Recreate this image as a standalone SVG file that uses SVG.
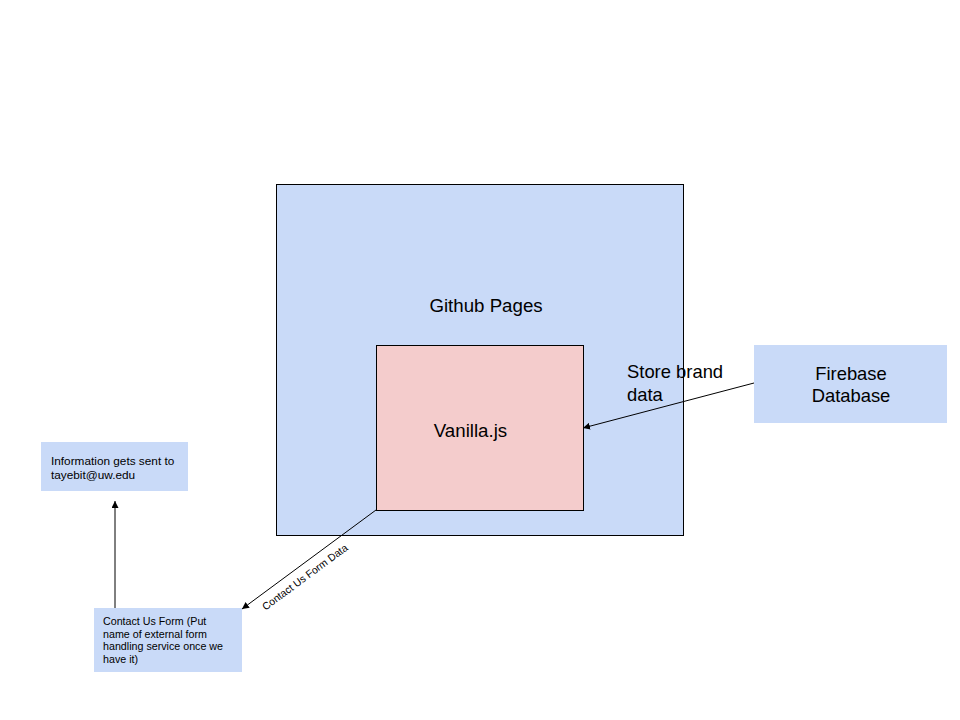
<svg xmlns="http://www.w3.org/2000/svg" width="960" height="720" viewBox="0 0 960 720">
<style>
text{font-family:"Liberation Sans",Arial,sans-serif;fill:#000}
.blue{fill:#c9daf8}
.pink{fill:#f4cccc}
.edge{stroke:#000;stroke-width:1;fill:none}
</style>
<defs>
<marker id="ah" viewBox="0 0 10 10" refX="10" refY="5" markerWidth="7" markerHeight="7" orient="auto" markerUnits="userSpaceOnUse">
<path d="M0,0 L10,5 L0,10 z" fill="#000"/>
</marker>
</defs>
<rect width="960" height="720" fill="#fff"/>
<g id="github-pages">
<rect x="276.5" y="184.5" width="407" height="351" class="blue" stroke="#000"/>
<text x="486" y="312" font-size="18.7" text-anchor="middle">Github Pages</text>
</g>
<g id="vanilla-js">
<rect x="376.5" y="345.5" width="207" height="165" class="pink" stroke="#000"/>
<text x="470.5" y="437" font-size="18.7" text-anchor="middle">Vanilla.js</text>
</g>
<g id="firebase">
<rect x="754" y="345" width="193" height="78" class="blue"/>
<text x="851" y="380" font-size="18.4" text-anchor="middle">Firebase</text>
<text x="851" y="402" font-size="18.4" text-anchor="middle">Database</text>
</g>
<g id="info">
<rect x="41" y="442" width="147" height="49" class="blue"/>
<text x="51" y="465" font-size="11.8">Information gets sent to</text>
<text x="51" y="479" font-size="11.8">tayebit@uw.edu</text>
</g>
<g id="contact-form">
<rect x="94" y="608" width="148" height="64" class="blue"/>
<text x="103" y="625" font-size="10.7">Contact Us Form (Put</text>
<text x="103" y="637.5" font-size="10.7">name of external form</text>
<text x="103" y="650" font-size="10.7">handling service once we</text>
<text x="103" y="662.5" font-size="10.7">have it)</text>
</g>
<g id="connectors">
<line x1="754" y1="383" x2="583" y2="428" class="edge" marker-end="url(#ah)"/>
<line x1="376" y1="510" x2="242" y2="609" class="edge" marker-end="url(#ah)"/>
<line x1="115" y1="608" x2="115" y2="501" class="edge" marker-end="url(#ah)"/>
<text x="627" y="378" font-size="18.4">Store brand</text>
<text x="627" y="401" font-size="18.4">data</text>
<text x="307" y="580" font-size="10.4" text-anchor="middle" transform="rotate(-36.5 307 580)">Contact Us Form Data</text>
</g>
</svg>
